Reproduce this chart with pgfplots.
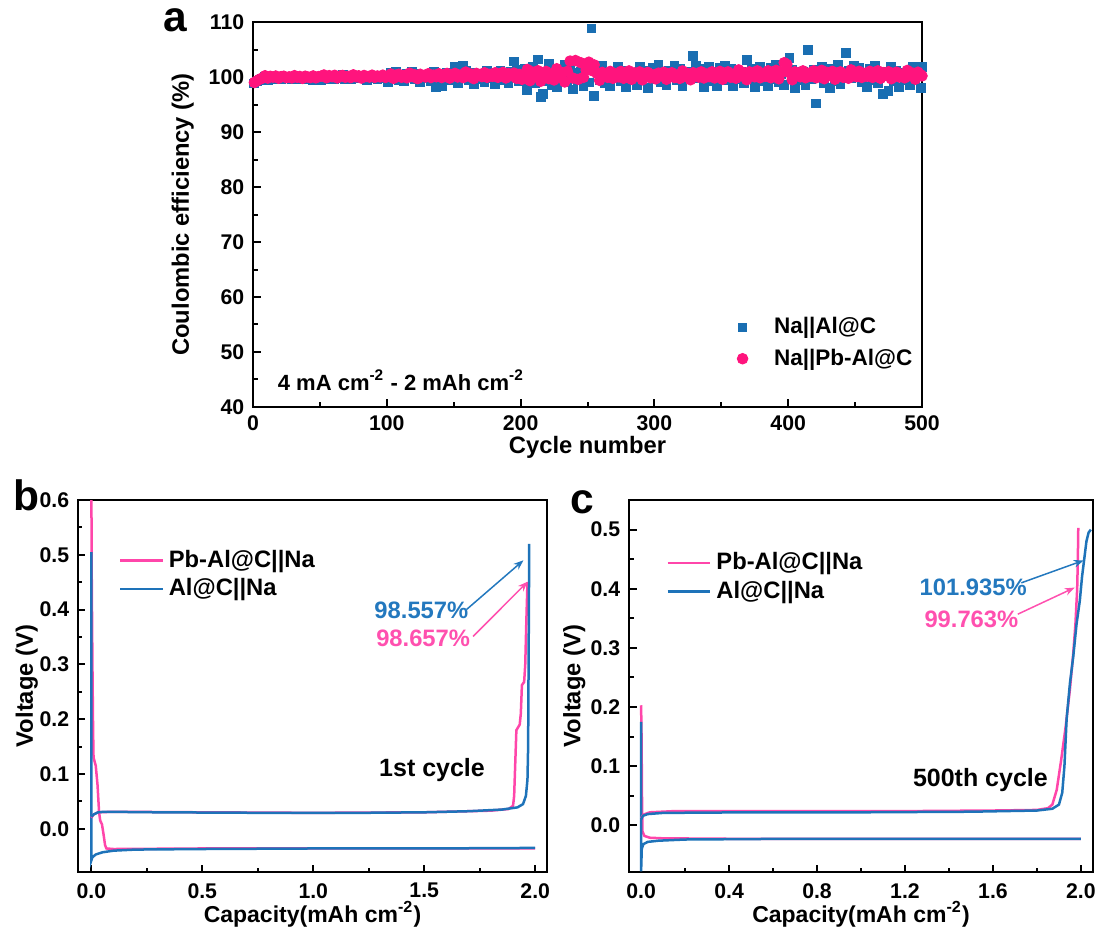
\documentclass[border=0pt]{standalone}
\usepackage{fontspec}
\setmainfont{Liberation Sans}
\usepackage{pgfplots}
\usepackage{pgfplotstable}
\pgfplotsset{compat=1.18}
\usetikzlibrary{arrows.meta}

\definecolor{sqblue}{RGB}{25,110,178}
\definecolor{dotpink}{RGB}{255,20,125}
\definecolor{lblue}{RGB}{30,115,185}
\definecolor{lpink}{RGB}{255,70,170}
\definecolor{tblue}{RGB}{35,120,190}
\definecolor{tpink}{RGB}{255,80,175}

\pgfplotsset{
  myax/.style={
    scale only axis,
    axis line style={line width=1.1pt},
    every tick/.style={black, line width=0.8pt},
    tick align=inside,
    xtick pos=lower, ytick pos=left,
    major tick length=3pt, minor tick length=1.8pt,
    minor tick num=1,
    tick label style={font=\bfseries\fontsize{8.5}{10}\selectfont},
    label style={font=\bfseries\fontsize{9.5}{11}\selectfont},
    /pgf/number format/assume math mode=true,
  },
  vax/.style={
    myax,
    yticklabel style={/pgf/number format/fixed, /pgf/number format/fixed zerofill, /pgf/number format/precision=1},
    xticklabel style={/pgf/number format/fixed, /pgf/number format/fixed zerofill, /pgf/number format/precision=1, yshift=-1pt},
    legend style={draw=none, fill=none, font=\bfseries\fontsize{9.5}{11}\selectfont, row sep=-1pt},
    legend cell align=left,
    legend image code/.code={\draw[#1] (0pt,0pt) -- (17pt,0pt);},
    xlabel={Capacity(mAh cm\textsuperscript{-2})},
    ylabel={Voltage (V)},
    xlabel style={font=\bfseries\fontsize{9.2}{11}\selectfont},
  }
}

\pgfplotstableread{
x blue pink
1 98.8 99.0
3 99.2 99.3
5 99.4 99.6
7 99.6 99.8
9 99.98 100.23
11 99.5 99.8
13 99.83 100.13
15 100.04 99.98
17 99.65 100.18
19 99.89 99.78
21 99.53 100.08
23 100.01 100.15
25 99.71 99.88
27 100.1 100.03
29 99.62 99.83
31 99.86 100.25
33 99.56 99.95
35 99.95 100.1
37 99.77 99.75
39 100.07 100.15
41 99.68 100.0
43 99.98 99.9
45 99.52 100.2
47 99.91 99.85
49 99.73 100.08
51 99.5 100.16
53 99.94 100.37
55 100.22 99.86
57 99.7 100.25
59 100.02 100.07
61 99.54 100.31
63 100.18 99.83
65 99.78 100.19
67 100.3 100.28
69 99.66 99.95
71 99.98 100.13
73 99.58 99.89
75 100.1 100.4
77 99.86 100.04
79 100.26 100.22
81 99.74 99.8
83 100.14 100.28
85 99.52 100.1
87 100.04 99.98
89 99.8 100.34
91 100.06 99.92
93 99.62 100.19
95 100.26 100.01
97 99.82 100.34
99 100.14 99.92
101 99.1 100.15
103 100.7 100.55
105 99.7 99.75
107 101.0 100.35
109 99.4 100.5
111 100.2 99.95
113 99.2 100.25
115 100.5 99.85
117 99.9 100.7
119 100.9 100.1
121 99.6 100.4
123 100.6 99.7
125 99.05 100.5
127 100.35 100.2
129 99.75 100.0
131 100.4 100.6
133 99.3 99.9
135 100.9 100.35
137 98.2 100.05
139 98.4 100.6
141 98.3 99.9
143 100.1 100.3
145 100.8 100.65
147 99.5 99.8
149 100.3 100.45
151 101.9 100.66
153 98.96 100.0
155 100.65 100.36
157 102.0 99.88
159 101.17 100.9
161 99.48 100.18
163 100.78 100.54
165 98.77 99.7
167 100.46 100.66
169 99.68 100.3
171 100.52 100.06
173 99.09 100.78
175 101.17 99.94
177 99.74 100.48
179 100.78 100.12
181 98.7 100.78
183 100.13 99.94
185 101.04 100.42
187 99.35 100.84
189 100.39 99.82
191 98.83 100.6
193 100.91 100.24
195 102.8 100.72
197 101.3 99.76
199 99.22 100.48
201 99.52 99.58
203 101.44 100.54
205 97.6 101.38
207 100.24 99.34
209 101.92 100.9
211 98.8 100.18
213 103.2 101.14
215 96.4 99.22
217 96.9 100.66
219 99.28 101.02
221 102.4 99.7
223 98.56 100.42
225 100.48 99.46
227 98.08 101.5
229 101.2 100.06
231 99.76 100.78
233 102.16 99.1
235 99.04 101.02
237 101.44 102.9
239 97.72 99.82
241 100.84 103.0
243 99.4 99.58
245 100.96 102.6
247 98.32 99.94
249 102.16 101.26
251 99.0 102.7
253 108.8 101.2
255 96.6 102.2
257 101.4 100.66
259 99.4 99.4
261 102.0 100.84
263 98.8 100.3
265 100.4 99.94
267 98.4 101.02
269 101.0 99.76
271 99.8 100.57
273 101.8 100.03
275 99.2 101.02
277 101.2 99.76
279 98.1 100.48
281 100.7 101.11
283 99.5 99.58
285 100.8 100.75
287 98.6 100.21
289 101.8 100.93
291 99.6 99.49
293 101.2 100.57
295 98.0 100.84
297 100.2 99.85
299 101.6 100.39
301 99.6 99.66
303 102.2 100.7
305 99.0 100.22
307 100.6 100.86
309 98.6 99.58
311 101.2 100.54
313 100.0 100.78
315 102.0 99.9
317 99.4 100.38
319 101.4 99.74
321 98.3 101.1
323 100.9 100.14
325 99.7 100.62
327 101.0 99.5
329 103.8 100.78
331 102.0 100.3
333 99.8 99.98
335 101.4 100.94
337 98.2 99.82
339 100.4 100.54
341 101.8 100.06
343 99.2 100.94
345 100.8 99.82
347 98.4 100.46
349 101.6 101.02
351 100.0 99.59
353 102.0 100.67
355 99.4 100.94
357 101.4 99.95
359 98.3 100.49
361 100.9 99.77
363 99.7 101.3
365 101.0 100.22
367 98.8 100.76
369 103.1 99.5
371 99.8 100.94
373 101.4 100.4
375 98.2 100.04
377 100.4 101.12
379 101.8 99.86
381 99.2 100.67
383 100.8 100.13
385 98.4 101.12
387 101.6 99.86
389 99.6 100.58
391 102.2 101.21
393 99.0 99.68
395 100.6 100.85
397 98.6 102.6
399 101.2 102.3
401 103.4 100.76
403 101.32 99.5
405 97.91 100.94
407 100.77 100.4
409 99.45 100.04
411 100.88 101.12
413 98.46 99.86
415 104.9 100.67
417 99.56 100.13
419 101.32 101.12
421 95.2 99.86
423 100.22 100.58
425 101.76 101.21
427 98.9 99.68
429 100.66 100.85
431 98.02 100.31
433 101.54 101.03
435 99.34 99.59
437 102.2 100.67
439 98.68 100.94
441 100.44 99.95
443 104.4 100.49
445 101.1 99.77
447 99.78 101.3
449 101.98 100.22
451 100.2 100.08
453 101.6 101.04
455 99.0 99.92
457 100.6 100.64
459 98.2 100.16
461 101.4 101.04
463 99.4 99.92
465 102.0 100.56
467 98.8 101.12
469 100.4 99.76
471 96.9 100.8
473 101.0 100.32
475 97.4 100.96
477 101.8 99.68
479 99.2 100.64
481 101.2 100.88
483 98.1 100.0
485 100.7 100.48
487 99.5 99.84
489 100.8 101.2
491 98.6 100.24
493 101.8 100.72
495 99.6 99.6
497 101.2 100.88
499 98.0 100.4
500 101.8 100.2
}\datA

\begin{document}
\begin{tikzpicture}
\path[use as bounding box] (0pt,0pt) rectangle (440.8pt,-370.4pt);

% ---------------- panel a ----------------
\begin{axis}[myax,
  at={(101.2pt,-8.8pt)}, anchor=north west,
  width=267.6pt, height=154pt,
  xmin=0, xmax=500, ymin=40, ymax=110,
  xtick={0,100,...,500}, ytick={40,50,...,110},
  xlabel={Cycle number}, ylabel={Coulombic efficiency (\%)},
  xlabel style={at={(axis description cs:0.5,-0.104)}, anchor=center},
  ylabel style={at={(axis description cs:-0.105,0.5)}, anchor=center},
  legend style={at={(axis cs:356,58.2)}, anchor=north west, draw=none, fill=none,
    font=\bfseries\fontsize{9}{10.5}\selectfont, row sep=0.5pt, column sep=8.5pt},
  legend cell align=left,
]
\addplot[only marks, mark=square*, mark size=1.75pt, color=sqblue] table[x=x,y=blue]{\datA};
\addlegendentry{Na||Al@C}
\addplot[only marks, mark=*, mark size=2.1pt, color=dotpink] table[x=x,y=pink]{\datA};
\addlegendentry{Na||Pb-Al@C}
\node[anchor=west, font=\bfseries\fontsize{8.8}{10}\selectfont] at (axis cs:12,44.9) {4 mA cm\textsuperscript{-2} - 2 mAh cm\textsuperscript{-2}};
\end{axis}
\node[font=\bfseries\fontsize{17}{18}\selectfont] at (70pt,-8pt) {a};

% ---------------- panel b ----------------
\begin{axis}[vax,
  at={(31.2pt,-200pt)}, anchor=north west,
  width=187.6pt, height=148.8pt,
  xmin=-0.06, xmax=2.053, ymin=-0.079, ymax=0.6,
  xtick={0,0.5,...,2.0}, ytick={0,0.1,...,0.6},
  xlabel style={at={(axis description cs:0.5,-0.113)}, anchor=center},
  ylabel style={at={(axis description cs:-0.109,0.5)}, anchor=center},
  legend style={at={(axis cs:0.088,0.528)}, anchor=north west},
]
\addplot[lpink, line width=1pt] coordinates {
(0.000,0.650) (0.002,0.450) (0.005,0.300) (0.008,0.180) (0.010,0.130) (0.020,0.115)
(0.028,0.080) (0.035,0.030) (0.040,0.015) (0.048,0.008) (0.055,-0.010) (0.062,-0.030)
(0.068,-0.036) (0.100,-0.037) (0.500,-0.036) (1.000,-0.036) (1.500,-0.036) (2.000,-0.036)};
\addlegendentry{Pb-Al@C||Na}
\addplot[lblue, line width=1pt] coordinates {
(0.000,0.505) (0.000,0.300) (0.000,-0.058) (0.005,-0.052) (0.020,-0.047) (0.050,-0.043)
(0.100,-0.040) (0.200,-0.038) (0.500,-0.037) (1.000,-0.036) (1.500,-0.036) (2.000,-0.035)};
\addlegendentry{Al@C||Na}
\addplot[lpink, line width=1pt, forget plot] coordinates {
(0.000,0.020) (0.010,0.026) (0.030,0.030) (0.100,0.031) (0.500,0.030) (1.000,0.029)
(1.500,0.030) (1.800,0.033) (1.880,0.036) (1.900,0.042) (1.905,0.060) (1.910,0.120)
(1.915,0.180) (1.930,0.190) (1.935,0.210) (1.940,0.262) (1.950,0.268) (1.955,0.300)
(1.960,0.380) (1.965,0.450)};
\addplot[lblue, line width=1pt, forget plot] coordinates {
(0.000,0.022) (0.010,0.026) (0.030,0.030) (0.060,0.031) (0.300,0.030) (0.800,0.029)
(1.200,0.029) (1.500,0.030) (1.700,0.032) (1.850,0.035) (1.920,0.039) (1.945,0.045)
(1.958,0.060) (1.965,0.090) (1.968,0.150) (1.970,0.300) (1.972,0.450) (1.973,0.520)};
\draw[-{Stealth[length=4pt,width=3pt]}, tblue, line width=0.6pt] (axis cs:1.69,0.400) -- (axis cs:1.947,0.490);
\draw[-{Stealth[length=4pt,width=3pt]}, tpink, line width=0.6pt] (axis cs:1.72,0.351) -- (axis cs:1.966,0.451);
\node[tblue, font=\bfseries\fontsize{9.5}{11}\selectfont] at (axis cs:1.487,0.398) {98.557\%};
\node[tpink, font=\bfseries\fontsize{9.5}{11}\selectfont] at (axis cs:1.495,0.348) {98.657\%};
\node[font=\bfseries\fontsize{10}{12}\selectfont] at (axis cs:1.535,0.107) {1st cycle};
\end{axis}
\node[font=\bfseries\fontsize{17}{18}\selectfont] at (10.5pt,-198pt) {b};

% ---------------- panel c ----------------
\begin{axis}[vax,
  at={(251.6pt,-200pt)}, anchor=north west,
  width=185.6pt, height=148.8pt,
  xmin=-0.055, xmax=2.055, ymin=-0.079, ymax=0.55,
  xtick={0,0.4,...,2.0}, ytick={0,0.1,...,0.5},
  xlabel style={at={(axis description cs:0.5,-0.113)}, anchor=center},
  ylabel style={at={(axis description cs:-0.118,0.5)}, anchor=center},
  legend style={at={(axis cs:0.079,0.479)}, anchor=north west},
]
\addplot[lpink, line width=1pt] coordinates {
(0.000,0.203) (0.002,0.150) (0.004,0.050) (0.006,-0.010) (0.015,-0.018) (0.040,-0.021)
(0.100,-0.022) (0.500,-0.023) (1.000,-0.023) (1.500,-0.023) (2.000,-0.023)};
\addlegendentry{Pb-Al@C||Na}
\addplot[lblue, line width=1pt] coordinates {
(0.000,0.175) (0.000,-0.078) (0.003,-0.040) (0.010,-0.032) (0.030,-0.028) (0.080,-0.026)
(0.200,-0.024) (0.600,-0.023) (1.000,-0.023) (1.500,-0.023) (2.000,-0.023)};
\addlegendentry{Al@C||Na}
\addplot[lpink, line width=1pt, forget plot] coordinates {
(0.000,0.012) (0.010,0.018) (0.040,0.022) (0.150,0.024) (0.600,0.024) (1.200,0.024)
(1.600,0.025) (1.800,0.026) (1.850,0.029) (1.870,0.035) (1.890,0.060) (1.910,0.110)
(1.930,0.165) (1.950,0.230) (1.965,0.290) (1.975,0.340) (1.983,0.400) (1.986,0.450) (1.988,0.503)};
\addplot[lblue, line width=1pt, forget plot] coordinates {
(0.000,0.010) (0.008,0.016) (0.030,0.019) (0.100,0.021) (0.500,0.022) (1.000,0.022)
(1.500,0.023) (1.800,0.025) (1.870,0.028) (1.900,0.035) (1.915,0.055) (1.925,0.100)
(1.935,0.180) (1.950,0.240) (1.965,0.285) (1.980,0.340) (1.995,0.380) (2.005,0.420)
(2.015,0.450) (2.025,0.480) (2.035,0.495) (2.045,0.500)};
\draw[-{Stealth[length=4pt,width=3pt]}, tblue, line width=0.6pt] (axis cs:1.729,0.410) -- (axis cs:2.013,0.448);
\draw[-{Stealth[length=4pt,width=3pt]}, tpink, line width=0.6pt] (axis cs:1.713,0.357) -- (axis cs:1.972,0.402);
\node[tblue, font=\bfseries\fontsize{9.5}{11}\selectfont] at (axis cs:1.51,0.403) {101.935\%};
\node[tpink, font=\bfseries\fontsize{9.5}{11}\selectfont] at (axis cs:1.502,0.349) {99.763\%};
\node[font=\bfseries\fontsize{10}{12}\selectfont] at (axis cs:1.543,0.076) {500th cycle};
\end{axis}
\node[font=\bfseries\fontsize{17}{18}\selectfont] at (233pt,-201pt) {c};
\end{tikzpicture}
\end{document}
